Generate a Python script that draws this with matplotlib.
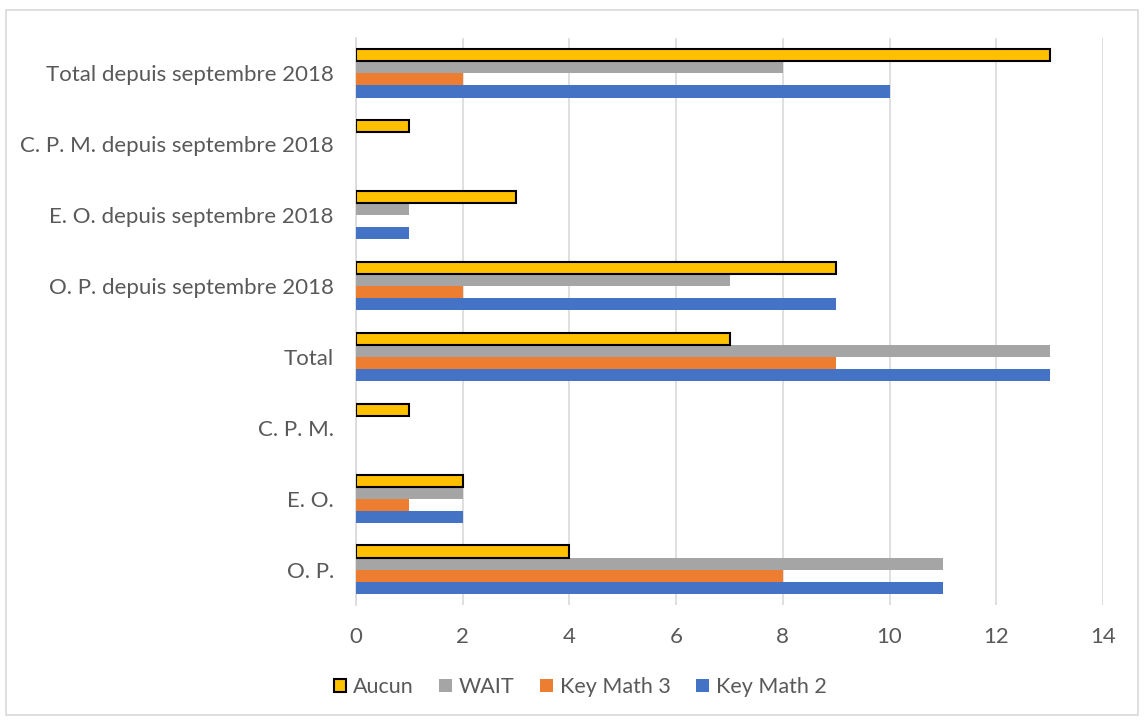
import matplotlib.pyplot as plt
import numpy as np
from matplotlib.patches import Rectangle

categories = ["O. P.", "E. O.", "C. P. M.", "Total",
              "O. P. depuis septembre 2018", "E. O. depuis septembre 2018",
              "C. P. M. depuis septembre 2018", "Total depuis septembre 2018"]
key_math_2 = [11, 2, 0, 13, 9, 1, 0, 10]
key_math_3 = [8, 1, 0, 9, 2, 0, 0, 2]
wait = [11, 2, 0, 13, 7, 1, 0, 8]
aucun = [4, 2, 1, 7, 9, 3, 1, 13]

plt.rcParams['font.family'] = ['Lato', 'DejaVu Sans']
fig = plt.figure(figsize=(11.44, 7.21), dpi=100)
ax = fig.add_axes([356/1144, 1-605/721, (1103-356)/1144, (605-38)/721])

y = np.arange(len(categories))
h = 0.17
series = [(key_math_2, "#4472C4", "Key Math 2", None),
          (key_math_3, "#ED7D31", "Key Math 3", None),
          (wait, "#A5A5A5", "WAIT", None),
          (aucun, "#FFC000", "Aucun", "black")]
handles = []
for i, (vals, col, lab, ec) in enumerate(series):
    off = (i - 1.5) * h
    b = ax.barh(y + off, vals, height=h, color=col, label=lab,
                edgecolor=ec if ec else 'none', linewidth=1.5 if ec else 0, zorder=3)
    handles.append(b)

ax.set_xlim(0, 14)
ax.set_ylim(-0.5, len(categories) - 0.5)
ax.set_xticks(np.arange(0, 15, 2))
ax.set_yticks(y)
ax.set_yticklabels(categories)
ax.tick_params(axis='both', length=0, labelsize=16, labelcolor='#595959')
ax.tick_params(axis='y', pad=16)
ax.tick_params(axis='x', pad=16)
ax.grid(axis='x', color='#D9D9D9', linewidth=1.2, zorder=0)
for s in ['top', 'right', 'bottom']:
    ax.spines[s].set_visible(False)
ax.spines['left'].set_color('#D9D9D9')
ax.spines['left'].set_linewidth(1.2)

leg = fig.legend(handles=handles[::-1], labels=["Aucun", "WAIT", "Key Math 3", "Key Math 2"],
                 loc='center', bbox_to_anchor=(580/1144, 1-687/721), ncol=4, frameon=False,
                 fontsize=15.5, handlelength=0.6, handleheight=0.6, handletextpad=0.3,
                 columnspacing=1.2)
for t in leg.get_texts():
    t.set_color('#595959')

fig.patches.append(Rectangle((6/1144, 1-715/721), (1138-6)/1144, (715-10)/721,
                             transform=fig.transFigure, fill=False,
                             edgecolor='#D9D9D9', linewidth=1.2))
fig.savefig("out.png", dpi=100)
